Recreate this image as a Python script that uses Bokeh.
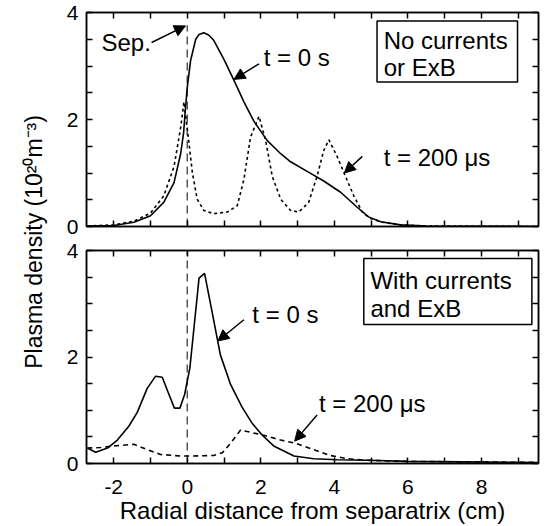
import math
from bokeh.plotting import figure
from bokeh.layouts import row, column
from bokeh.models import Range1d, FixedTicker, LinearAxis, Arrow, NormalHead, Label
from bokeh.core.properties import value
from bokeh.embed import file_html
from bokeh.resources import INLINE

FONT = "Liberation Sans"

# ---------------- data ----------------
X_RANGE = (-2.74, 9.55)
Y_RANGE = (0.0, 4.0)
X_TICKS = [-2, 0, 2, 4, 6, 8]
X_MINOR = [-1, 1, 3, 5, 7, 9]
Y_TICKS = [0, 2, 4]
Y_MINOR = [0.5, 1.0, 1.5, 2.5, 3.0, 3.5]

SEP_X = 0.0

# top panel: no currents or ExB
top_t0_x = [-2.72, -2.0, -1.45, -1.0, -0.64, -0.36, -0.18, -0.1, -0.05, 0.0, 0.09, 0.23, 0.32, 0.45,
            0.58, 0.72, 1.0, 1.27, 1.54, 1.81, 2.17, 2.54, 2.81, 3.26, 3.71, 4.17, 4.62, 4.93, 5.26,
            5.8, 6.5, 7.5, 9.55]
top_t0_y = [0.01, 0.02, 0.08, 0.2, 0.45, 0.82, 1.36, 1.75, 2.2, 2.6, 3.1, 3.5, 3.59, 3.62,
            3.58, 3.48, 3.12, 2.73, 2.33, 1.97, 1.61, 1.36, 1.21, 1.03, 0.85, 0.64, 0.36, 0.18, 0.09,
            0.03, 0.01, 0.005, 0.0]
top_t200_x = [-2.72, -2.0, -1.45, -1.0, -0.64, -0.36, -0.18, -0.09, 0.04, 0.14, 0.27, 0.45, 0.72,
              1.09, 1.36, 1.54, 1.72, 1.95, 2.13, 2.31, 2.54, 2.81, 3.03, 3.3, 3.53, 3.71, 3.85,
              4.08, 4.3, 4.53, 4.76, 4.98, 5.3, 5.8, 6.5, 9.55]
top_t200_y = [0.01, 0.03, 0.1, 0.25, 0.57, 1.12, 1.85, 2.33, 1.6, 1.0, 0.51, 0.30, 0.24,
              0.27, 0.39, 0.88, 1.67, 2.06, 1.61, 0.94, 0.51, 0.30, 0.27, 0.45, 0.94, 1.42, 1.62,
              1.30, 0.94, 0.57, 0.27, 0.15, 0.08, 0.03, 0.01, 0.0]

# bottom panel: with currents and ExB
bot_t0_x = [-2.72, -2.49, -2.17, -1.9, -1.59, -1.36, -1.09, -0.86, -0.68, -0.5, -0.35, -0.2, -0.07,
            0.07, 0.18, 0.32, 0.47, 0.68, 0.9, 1.18, 1.49, 1.77, 2.04, 2.35, 2.9, 3.44, 4.08, 4.89,
            6.0, 7.5, 9.55]
bot_t0_y = [0.29, 0.21, 0.29, 0.44, 0.70, 0.96, 1.41, 1.64, 1.62, 1.30, 1.04, 1.04, 1.30,
            1.79, 2.53, 3.48, 3.57, 2.83, 2.04, 1.48, 1.06, 0.75, 0.53, 0.33, 0.14, 0.09, 0.07, 0.06,
            0.04, 0.03, 0.02]
bot_t200_x = [-2.72, -2.36, -2.0, -1.45, -1.09, -0.73, -0.18, 0.0, 0.72, 0.95, 1.18, 1.45, 1.63,
              2.08, 2.54, 2.94, 3.44, 3.89, 4.35, 4.89, 6.0, 7.5, 9.55]
bot_t200_y = [0.29, 0.30, 0.33, 0.36, 0.26, 0.17, 0.14, 0.14, 0.15, 0.20, 0.38, 0.63, 0.60,
              0.53, 0.44, 0.38, 0.26, 0.15, 0.09, 0.06, 0.04, 0.03, 0.02]

X_TITLE = "Radial distance from separatrix (cm)"
Y_TITLE = "Plasma density (10\u00b2\u2070m\u207b\u00b3)"

TICK_FS = "21px"
XTITLE_FS = "24px"
YTITLE_FS = "23px"
ANN_FS = "24px"


def style_axis(ax, ticks, minor, show_labels, standoff=8):
    ax.ticker = FixedTicker(ticks=ticks, minor_ticks=minor)
    ax.major_tick_in = 6
    ax.major_tick_out = 0
    ax.minor_tick_in = 6
    ax.minor_tick_out = 0
    ax.major_tick_line_width = 1.5
    ax.minor_tick_line_width = 1.5
    ax.axis_line_width = 1.5
    ax.axis_line_color = "black"
    ax.major_tick_line_color = "black"
    ax.minor_tick_line_color = "black"
    ax.major_label_text_font = FONT
    if show_labels:
        ax.major_label_text_color = "black"
        ax.major_label_text_font_size = TICK_FS
        ax.major_label_standoff = standoff
        ax.major_label_overrides = {-2: "-2"}
    else:
        ax.major_label_text_color = None
        ax.major_label_text_font_size = "1px"
        ax.major_label_standoff = 0


def make_panel(height, btop, bbottom, xlabels):
    p = figure(width=482, height=height, x_range=Range1d(*X_RANGE), y_range=Range1d(*Y_RANGE),
               output_backend="svg", toolbar_location=None,
               min_border_left=26, min_border_right=4, min_border_top=btop, min_border_bottom=bbottom)
    p.grid.visible = False
    p.outline_line_color = "black"
    p.outline_line_width = 1.5
    ax_bottom = p.below[0]
    ax_left = p.left[0]
    style_axis(ax_bottom, X_TICKS, X_MINOR, xlabels, standoff=16)
    style_axis(ax_left, Y_TICKS, Y_MINOR, True, standoff=8)
    ax_top = LinearAxis()
    style_axis(ax_top, X_TICKS, X_MINOR, False)
    p.add_layout(ax_top, "above")
    ax_right = LinearAxis()
    style_axis(ax_right, Y_TICKS, Y_MINOR, False)
    p.add_layout(ax_right, "right")
    return p, ax_bottom


def add_text(p, xs, ys, texts, align="left"):
    p.text(x=xs, y=ys, text=texts, text_font=value(FONT), text_font_size=value(ANN_FS),
           text_align=align, text_baseline="middle", text_color="black")


def add_arrow(p, x0, y0, x1, y1):
    p.add_layout(Arrow(end=NormalHead(size=11, fill_color="black", line_color="black", line_width=1),
                       x_start=x0, y_start=y0, x_end=x1, y_end=y1,
                       line_color="black", line_width=1.5))


# ---------------- top panel ----------------
top, _ = make_panel(238, 12, 12, False)
top.segment(x0=[SEP_X], y0=[0], x1=[SEP_X], y1=[3.76], line_dash="8 5", line_color="#555555", line_width=1.5)
top.line(top_t200_x, top_t200_y, line_color="black", line_width=1.6, line_dash="3 3")
top.line(top_t0_x, top_t0_y, line_color="black", line_width=1.6)
top.quad(left=[5.16], right=[8.98], top=[3.84], bottom=[2.70], fill_color=None, line_color="black", line_width=1.5)
add_text(top, [5.34, 5.34], [3.48, 2.98], ["No currents", "or ExB"])
add_text(top, [-0.99], [3.44], ["Sep."], align="right")
add_arrow(top, -0.97, 3.44, -0.05, 3.75)
add_text(top, [2.08], [3.15], ["t = 0 s"])
add_arrow(top, 1.95, 3.04, 1.27, 2.75)
add_text(top, [5.34], [1.29], ["t = 200 \u03bcs"])
add_arrow(top, 4.76, 1.31, 4.27, 1.0)

# ---------------- bottom panel ----------------
bot, bot_xaxis = make_panel(288, 12, 60, True)
bot_xaxis.axis_label = X_TITLE
bot_xaxis.axis_label_text_font = FONT
bot_xaxis.axis_label_text_font_size = XTITLE_FS
bot_xaxis.axis_label_text_font_style = "normal"
bot_xaxis.axis_label_text_color = "black"
bot_xaxis.axis_label_standoff = 0
bot.segment(x0=[SEP_X], y0=[0], x1=[SEP_X], y1=[4], line_dash="8 5", line_color="#555555", line_width=1.5)
bot.line(bot_t200_x, bot_t200_y, line_color="black", line_width=1.6, line_dash="5 4")
bot.line(bot_t0_x, bot_t0_y, line_color="black", line_width=1.6)
bot.quad(left=[4.8], right=[9.37], top=[3.85], bottom=[2.61], fill_color=None, line_color="black", line_width=1.5)
add_text(bot, [4.98, 4.98], [3.44, 2.92], ["With currents", "and ExB"])
add_text(bot, [1.77], [2.80], ["t = 0 s"])
add_arrow(bot, 1.54, 2.70, 0.83, 2.3)
add_text(bot, [3.58], [1.13], ["t = 200 \u03bcs"])
add_arrow(bot, 3.53, 0.91, 2.92, 0.42)

# ---------------- y title strip ----------------
strip = figure(width=60, height=526, x_range=Range1d(0, 1), y_range=Range1d(0, 1),
               output_backend="svg", toolbar_location=None,
               min_border_left=0, min_border_right=0, min_border_top=0, min_border_bottom=0)
strip.axis.visible = False
strip.grid.visible = False
strip.outline_line_color = None
strip.add_layout(Label(x=0.55, y=0.541, text=Y_TITLE, angle=math.pi / 2, text_align="center",
                       text_baseline="middle", text_font=FONT, text_font_size=YTITLE_FS,
                       text_color="black"))

layout = row(strip, column(top, bot))
open("out.html", "w").write(file_html(layout, INLINE))
